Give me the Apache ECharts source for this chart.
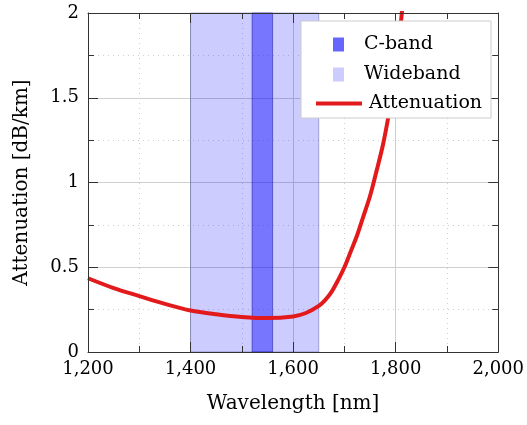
<!DOCTYPE html>
<html>
<head>
<meta charset="utf-8">
<script src="https://cdn.jsdelivr.net/npm/echarts@6/dist/echarts.min.js"></script>
<style>
html,body{margin:0;padding:0;background:#fff;}
#chart{width:527px;height:425px;}
</style>
</head>
<body>
<div id="chart"></div>
<script>
// ---- data ----
const wavelengths = [1200, 1250, 1300, 1350, 1400, 1450, 1500, 1550, 1600, 1625, 1650, 1662, 1675, 1687, 1700, 1712, 1725, 1737, 1750, 1762, 1775, 1787, 1800, 1812, 1824];
const attenuation = [0.435, 0.377, 0.330, 0.284, 0.245, 0.223, 0.207, 0.200, 0.210, 0.230, 0.272, 0.305, 0.355, 0.42, 0.50, 0.59, 0.69, 0.80, 0.92, 1.06, 1.22, 1.41, 1.66, 2.0, 2.4];
const cBand = [1520, 1560];
const wideBand = [1400, 1650];
const xTicks = {min: 1200, max: 2000, step: 200};
const yTicks = {min: 0, max: 2, step: 0.5};
const legendNames = ['C-band', 'Wideband', 'Attenuation'];

const FONT = 'DejaVu Serif';
const chart = echarts.init(document.getElementById('chart'), null, {renderer: 'canvas'});

const frameColor = '#333333';
const tickStyle = {show: true, inside: true, length: 10, lineStyle: {color: frameColor, width: 1}};
const minorTickStyle = {show: true, splitNumber: 2, length: 6, lineStyle: {color: frameColor, width: 1}};

function frameAxis(extra) {
  return Object.assign({
    type: 'value',
    z: 10,
    axisLine: {show: true, onZero: false, lineStyle: {color: frameColor, width: 1}},
    axisTick: tickStyle,
    minorTick: minorTickStyle,
    splitLine: {show: false},
    minorSplitLine: {show: false},
  }, extra);
}

const xBase = {min: xTicks.min, max: xTicks.max, interval: xTicks.step};
const yBase = {min: yTicks.min, max: yTicks.max, interval: yTicks.step};

const option = {
  backgroundColor: '#ffffff',
  animation: false,
  grid: {left: 88, right: 27, top: 13, bottom: 73, containLabel: false},
  xAxis: [
    frameAxis(Object.assign({}, xBase, {
      position: 'bottom',
      name: 'Wavelength [nm]',
      nameLocation: 'middle',
      nameGap: 42,
      nameTextStyle: {fontFamily: FONT, fontSize: 20, color: '#000'},
      axisLabel: {show: true, margin: 8, fontFamily: FONT, fontSize: 18, color: '#000',
        formatter: v => Number(v).toLocaleString('en-US')}
    })),
    frameAxis(Object.assign({}, xBase, {position: 'top', axisLabel: {show: false}})),
    Object.assign({}, xBase, {
      type: 'value', position: 'bottom', z: 0,
      axisLine: {show: false}, axisTick: {show: false}, axisLabel: {show: false},
      minorTick: {show: false, splitNumber: 2},
      splitLine: {show: true, lineStyle: {color: '#cfcfcf', width: 1}},
      minorSplitLine: {show: true, lineStyle: {color: '#d0d0d0', width: 1, type: [1, 4]}}
    })
  ],
  yAxis: [
    frameAxis(Object.assign({}, yBase, {
      position: 'left',
      name: 'Attenuation [dB/km]',
      nameLocation: 'middle',
      nameGap: 56,
      nameTextStyle: {fontFamily: FONT, fontSize: 20, color: '#000'},
      axisLabel: {show: true, margin: 9, fontFamily: FONT, fontSize: 18, color: '#000'}
    })),
    frameAxis(Object.assign({}, yBase, {position: 'right', axisLabel: {show: false}})),
    Object.assign({}, yBase, {
      type: 'value', position: 'left', z: 0,
      axisLine: {show: false}, axisTick: {show: false}, axisLabel: {show: false},
      minorTick: {show: false, splitNumber: 2},
      splitLine: {show: true, lineStyle: {color: '#cfcfcf', width: 1}},
      minorSplitLine: {show: true, lineStyle: {color: '#d0d0d0', width: 1, type: [1, 4]}}
    })
  ],
  legend: [
    {
      data: [{name: legendNames[0], icon: 'rect'}, {name: legendNames[1], icon: 'rect'}],
      orient: 'vertical', left: 328, top: 30, itemWidth: 11, itemHeight: 14, itemGap: 11,
      z: 30, selectedMode: false,
      textStyle: {fontFamily: FONT, fontSize: 19, color: '#000', padding: [0, 0, 0, 15]}
    },
    {
      data: [{name: legendNames[2], icon: 'rect'}],
      orient: 'vertical', left: 311, top: 89, itemWidth: 46, itemHeight: 4,
      z: 30, selectedMode: false,
      textStyle: {fontFamily: FONT, fontSize: 19, color: '#000', padding: [0, 0, 0, 2]}
    }
  ],
  graphic: [{
    type: 'rect', z: 25, silent: true,
    shape: {x: 301, y: 21, width: 190, height: 97},
    style: {fill: '#ffffff', stroke: '#cccccc', lineWidth: 1}
  }],
  series: [
    {
      name: legendNames[1], type: 'line', data: [], xAxisIndex: 0, yAxisIndex: 0,
      color: '#ccccff', itemStyle: {color: '#ccccff'},
      markArea: {
        silent: true,
        itemStyle: {color: 'rgba(0,0,255,0.2)', borderColor: 'rgba(60,60,140,0.4)', borderWidth: 1},
        data: [[{xAxis: wideBand[0], yAxis: yTicks.min}, {xAxis: wideBand[1], yAxis: yTicks.max}]]
      }
    },
    {
      name: legendNames[0], type: 'line', data: [], xAxisIndex: 0, yAxisIndex: 0,
      color: '#6666ff', itemStyle: {color: '#6666ff'},
      markArea: {
        silent: true,
        itemStyle: {color: 'rgba(0,0,255,0.42)', borderColor: 'rgba(30,30,150,0.55)', borderWidth: 1},
        data: [[{xAxis: cBand[0], yAxis: yTicks.min}, {xAxis: cBand[1], yAxis: yTicks.max}]]
      }
    },
    {
      name: legendNames[2], type: 'line', xAxisIndex: 0, yAxisIndex: 0,
      data: wavelengths.map((w, i) => [w, attenuation[i]]),
      smooth: 0.3, showSymbol: false, clip: true, z: 5,
      color: '#e31a1c',
      lineStyle: {color: '#e31a1c', width: 4},
      itemStyle: {color: '#e31a1c'}
    }
  ]
};
chart.setOption(option);
</script>
</body>
</html>
